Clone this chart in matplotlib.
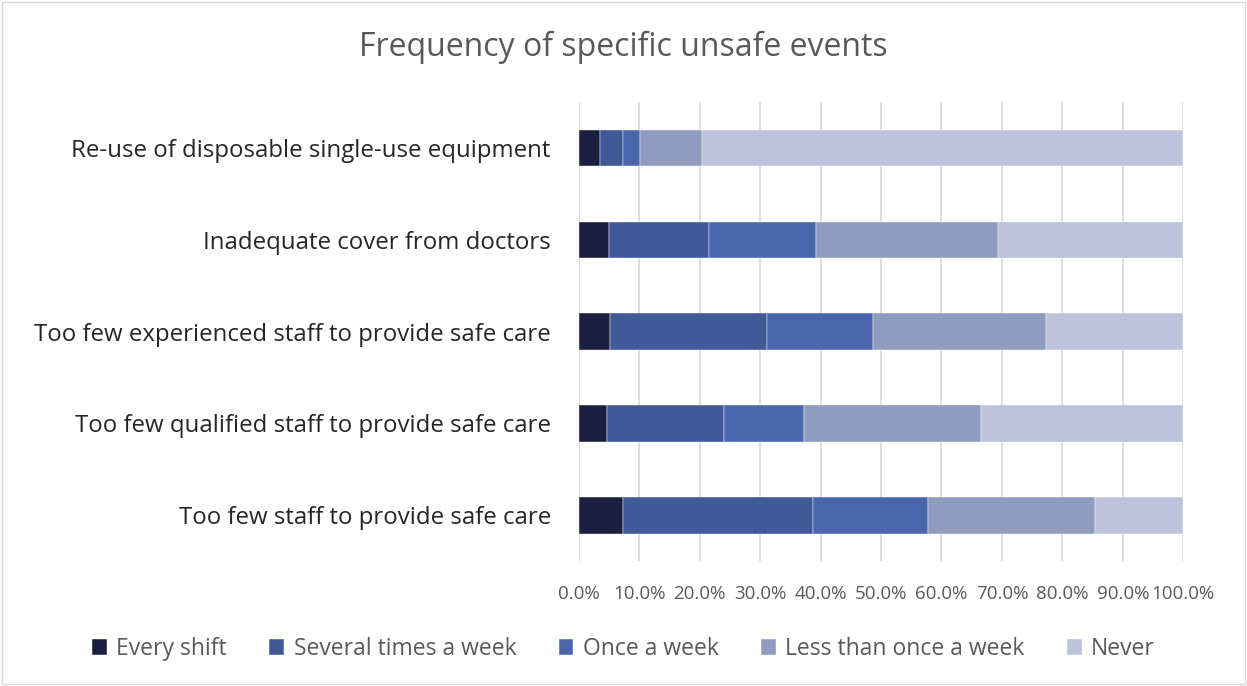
import matplotlib

matplotlib.use("Agg")
import matplotlib.pyplot as plt
import numpy as np
from matplotlib.patches import Rectangle

categories = [
    "Too few staff to provide safe care",
    "Too few qualified staff to provide safe care",
    "Too few experienced staff to provide safe care",
    "Inadequate cover from doctors",
    "Re-use of disposable single-use equipment",
]
series_names = ["Every shift", "Several times a week", "Once a week",
                "Less than once a week", "Never"]
every_shift = [7.3, 4.7, 5.2, 5.0, 3.6]
several_week = [31.5, 19.3, 25.9, 16.5, 3.7]
once_week = [18.9, 13.3, 17.6, 17.8, 2.9]
less_than_once = [27.7, 29.3, 28.6, 30.1, 10.2]
never = [14.6, 33.4, 22.7, 30.6, 79.6]
tick_values = [0, 10, 20, 30, 40, 50, 60, 70, 80, 90, 100]

colors = ["#1c1f3f", "#3f5a97", "#4a67ad", "#8f9cc0", "#bcc2d9"]
text_color = "#595959"

plt.rcParams["font.family"] = ["Open Sans", "DejaVu Sans"]

fig = plt.figure(figsize=(12.47, 6.86), dpi=100)
ax = fig.add_axes([0.464, 0.182, 0.485, 0.669])

y = np.arange(len(categories))
left = np.zeros(len(categories))
series = [every_shift, several_week, once_week, less_than_once, never]
for name, vals, c in zip(series_names, series, colors):
    ax.barh(y, vals, left=left, height=0.4, color=c, label=name,
            edgecolor="white", linewidth=0.3, zorder=3)
    left += np.array(vals)

ax.set_xlim(0, 100)
ax.set_ylim(-0.5, len(categories) - 0.5)
ax.set_xticks(tick_values)
ax.set_xticklabels([f"{v:.1f}%" for v in tick_values], fontsize=13.5,
                   color=text_color)
ax.set_yticks(y)
ax.set_yticklabels(categories, fontsize=17.3, color="#262626")
ax.tick_params(axis="both", length=0)
ax.tick_params(axis="x", pad=17)
ax.tick_params(axis="y", pad=20)
ax.grid(axis="x", color="#d9d9d9", linewidth=1.2, zorder=0)
for s in ax.spines.values():
    s.set_visible(False)

fig.suptitle("Frequency of specific unsafe events", y=0.955, fontsize=23,
             color=text_color)

fig.legend(loc="center", bbox_to_anchor=(0.5, 0.054), ncol=5, frameon=False,
           fontsize=16.5, labelcolor=text_color, handlelength=0.65,
           handleheight=0.65, handletextpad=0.4, columnspacing=1.85)

fig.patches.append(Rectangle((0.002, 0.003), 0.996, 0.994,
                             transform=fig.transFigure, fill=False,
                             edgecolor="#d9d9d9", linewidth=1))

fig.savefig("out.png", dpi=100)
